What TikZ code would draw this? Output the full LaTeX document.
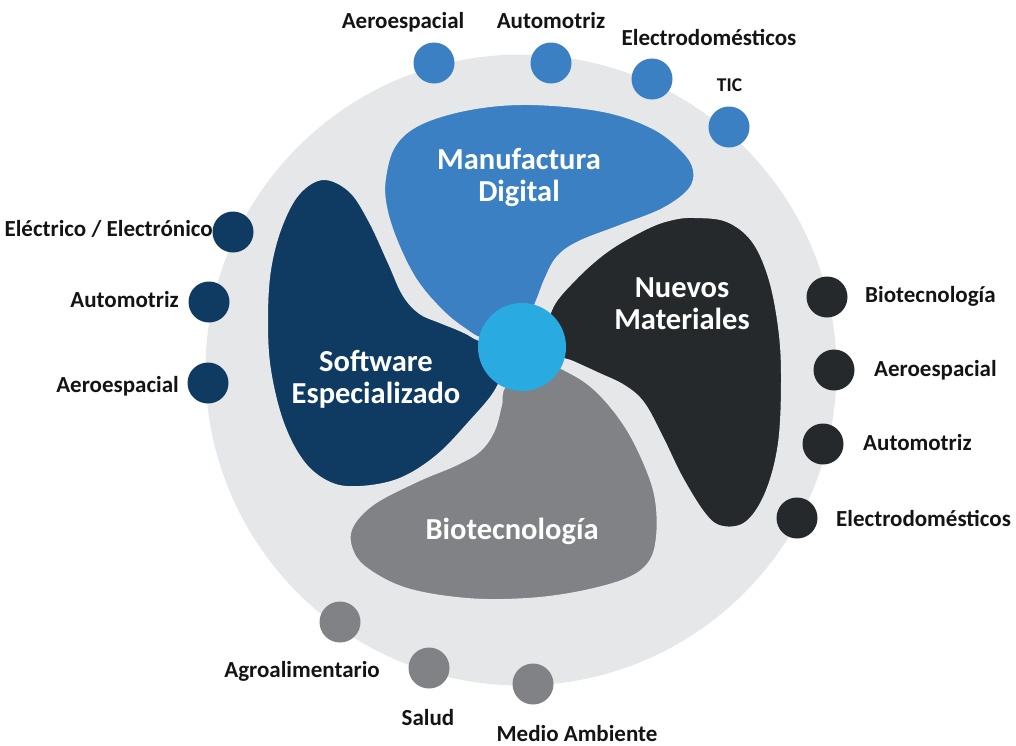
\documentclass[tikz,border=0pt]{standalone}
\usepackage{fontspec}
\setmainfont{Carlito}
\definecolor{bgc}{HTML}{E6E7E8}
\definecolor{manuc}{HTML}{3B80C2}
\definecolor{softc}{HTML}{0F3B63}
\definecolor{nuevc}{HTML}{26292C}
\definecolor{bioc}{HTML}{818286}
\definecolor{hubc}{HTML}{29AAE1}
\definecolor{lblc}{HTML}{141414}
\begin{document}
\begin{tikzpicture}[x=1pt,y=-1pt,
  lbl/.style={font=\fontsize{23}{27}\selectfont\bfseries, text=lblc, inner sep=0pt},
  ttl/.style={font=\fontsize{30.5}{32}\selectfont\bfseries, text=white, inner sep=0pt, anchor=base},
  blob/.style={draw=bgc, line width=4pt},
  dot/.style={circle, minimum size=41pt, inner sep=0pt}]
\useasboundingbox (0,0) rectangle (1016,745);
% background disc
\node[circle, fill=bgc, minimum size=631pt, inner sep=0pt] (ring) at (521,370) {};
% blobs
\path[blob, fill=softc] plot[smooth cycle, tension=0.6] coordinates {
 (323,178) (350,190) (370,220) (390,263) (404,294) (420,312) (440,321) (462,330) (485,342) (505,360)
 (497,390) (470,423) (437,457) (400,480) (360,488) (330,484) (303,463) (282,423)
 (269,370) (266,320) (269,270) (280,227) (298,193)};
\path[blob, fill=manuc] plot[smooth cycle, tension=0.6] coordinates {
 (485,340) (463,329) (440,310) (415,280) (396,242) (385,207) (384,178) (394,145)
 (420,123) (470,108) (530,103) (603,110) (653,127) (683,150) (695,170) (690,190)
 (663,210) (620,227) (579,243) (558,258) (546,280) (537,303) (522,335)};
\path[blob, fill=nuevc] plot[smooth cycle, tension=0.6] coordinates {
 (550,310) (573,280) (607,250) (647,227) (673,218) (695,216) (727,220) (753,240)
 (770,277) (780,327) (783,377) (780,443) (767,493) (747,523) (723,528) (705,516)
 (681,478) (661,437) (643,404) (624,387) (597,374) (573,363) (545,350)};
\path[blob, fill=bioc] plot[smooth cycle, tension=0.6] coordinates {
 (505,385) (500,405) (493,430) (479,450) (455,464) (417,480) (373,503) (351,527)
 (351,550) (367,570) (407,590) (467,600) (527,600) (580,593) (627,580) (650,563)
 (658,537) (657,500) (647,467) (627,427) (600,393) (573,373) (540,362)};
% hub
\node[circle, fill=hubc, minimum size=88pt, inner sep=0pt] (hub) at (522,347) {};
% titles
\node[ttl] (tmanu) at (519,169) {\begin{tabular}[t]{@{}c@{}}Manufactura\\Digital\end{tabular}};
\node[ttl] (tsoft) at (376,371) {\begin{tabular}[t]{@{}c@{}}Software\\Especializado\end{tabular}};
\node[ttl] (tnuev) at (682,297) {\begin{tabular}[t]{@{}c@{}}Nuevos\\Materiales\end{tabular}};
\node[ttl] (tbio) at (512,539) {Biotecnología};
% top dots (Manufactura)
\node[dot, fill=manuc] (m1) at (434,63) {};
\node[dot, fill=manuc] (m2) at (551,63) {};
\node[dot, fill=manuc] (m3) at (652,79) {};
\node[dot, fill=manuc] (m4) at (729,127) {};
\node[lbl, anchor=base] (lm1) at (403,28) {Aeroespacial};
\node[lbl, anchor=base] (lm2) at (551,28) {Automotriz};
\node[lbl, anchor=base] (lm3) at (709,45) {Electrodomésticos};
\node[lbl, anchor=base, font=\fontsize{19.5}{22}\selectfont\bfseries] (lm4) at (729.5,91) {TIC};
% left dots (Software)
\node[lbl, anchor=base east] (ls1) at (213,236) {Eléctrico / Electrónico};
\node[lbl, anchor=base east] (ls2) at (179,307) {Automotriz};
\node[lbl, anchor=base east] (ls3) at (179,392) {Aeroespacial};
\node[dot, fill=softc] (s1) at (233,232) {};
\node[dot, fill=softc] (s2) at (209,302) {};
\node[dot, fill=softc] (s3) at (208,383) {};
% right dots (Nuevos Materiales)
\node[dot, fill=nuevc] (n1) at (827,297) {};
\node[dot, fill=nuevc] (n2) at (834,370) {};
\node[dot, fill=nuevc] (n3) at (823,444) {};
\node[dot, fill=nuevc] (n4) at (797,518) {};
\node[lbl, anchor=base west] (ln1) at (865,302) {Biotecnología};
\node[lbl, anchor=base west] (ln2) at (874,376) {Aeroespacial};
\node[lbl, anchor=base west] (ln3) at (863,450) {Automotriz};
\node[lbl, anchor=base west] (ln4) at (836,526) {Electrodomésticos};
% bottom dots (Biotecnologia)
\node[dot, fill=bioc] (b1) at (340,622) {};
\node[dot, fill=bioc] (b2) at (429,668) {};
\node[dot, fill=bioc] (b3) at (533,684) {};
\node[lbl, anchor=base east] (lb1) at (380,677) {Agroalimentario};
\node[lbl, anchor=base] (lb2) at (428,725) {Salud};
\node[lbl, anchor=base] (lb3) at (577,741) {Medio Ambiente};
\end{tikzpicture}
\end{document}
